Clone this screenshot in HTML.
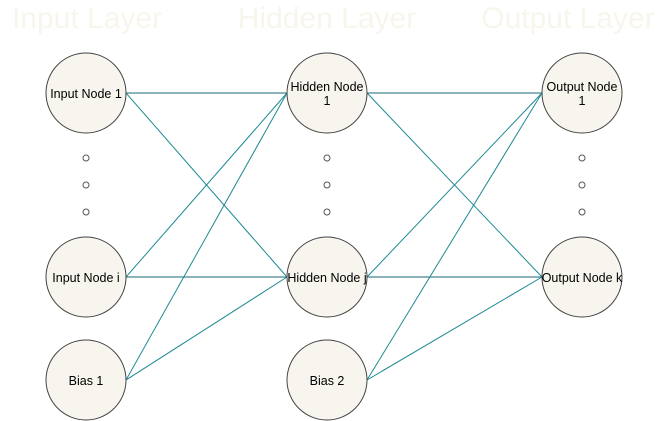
<!DOCTYPE html>
<html><head><meta charset="utf-8"><style>
html,body{margin:0;padding:0;background:#fff;width:664px;height:421px;overflow:hidden}
svg{display:block}
text{font-family:"Liberation Sans",Arial,sans-serif}
</style></head><body>
<svg width="664" height="421" viewBox="0 0 664 421" xmlns="http://www.w3.org/2000/svg">
<g font-size="30" fill="#f8f6ec" text-anchor="middle">
<text x="87" y="28">Input Layer</text>
<text x="327" y="28">Hidden Layer</text>
<text x="568" y="28">Output Layer</text>
</g>
<g stroke="#1e8a92" stroke-width="1" fill="none">
<line x1="126" y1="93" x2="287" y2="93" stroke="#1a6a70"/>
<line x1="126" y1="93" x2="287" y2="277"/>
<line x1="126" y1="277" x2="287" y2="93"/>
<line x1="126" y1="277" x2="287" y2="277" stroke="#1a6a70"/>
<line x1="126" y1="380" x2="287" y2="93"/>
<line x1="126" y1="380" x2="287" y2="277"/>
<line x1="367" y1="93" x2="542" y2="93" stroke="#1a6a70"/>
<line x1="367" y1="93" x2="542" y2="277"/>
<line x1="367" y1="277" x2="542" y2="93"/>
<line x1="367" y1="277" x2="542" y2="277" stroke="#1a6a70"/>
<line x1="367" y1="380" x2="542" y2="93"/>
<line x1="367" y1="380" x2="542" y2="277"/>
</g>
<g fill="#f7f5ed" stroke="#444" stroke-width="1">
<circle cx="86" cy="93" r="40"/>
<circle cx="86" cy="277" r="40"/>
<circle cx="86" cy="380" r="40"/>
<circle cx="327" cy="93" r="40"/>
<circle cx="327" cy="277" r="40"/>
<circle cx="327" cy="380" r="40"/>
<circle cx="582" cy="93" r="40"/>
<circle cx="582" cy="277" r="40"/>
</g>
<g fill="#fff" stroke="#555" stroke-width="1">
<circle cx="86" cy="158" r="3"/><circle cx="86" cy="185" r="3"/><circle cx="86" cy="212" r="3"/>
<circle cx="327" cy="158" r="3"/><circle cx="327" cy="185" r="3"/><circle cx="327" cy="212" r="3"/>
<circle cx="582" cy="158" r="3"/><circle cx="582" cy="185" r="3"/><circle cx="582" cy="212" r="3"/>
</g>
<g font-size="12.5" fill="#000" text-anchor="middle">
<text x="86" y="98">Input Node 1</text>
<text x="86" y="282">Input Node i</text>
<text x="86" y="385">Bias 1</text>
<text x="327" y="91">Hidden Node</text>
<text x="327" y="105">1</text>
<text x="327" y="282">Hidden Node j</text>
<text x="327" y="385">Bias 2</text>
<text x="582" y="91">Output Node</text>
<text x="582" y="105">1</text>
<text x="582" y="282">Output Node k</text>
</g>
</svg>
</body></html>
